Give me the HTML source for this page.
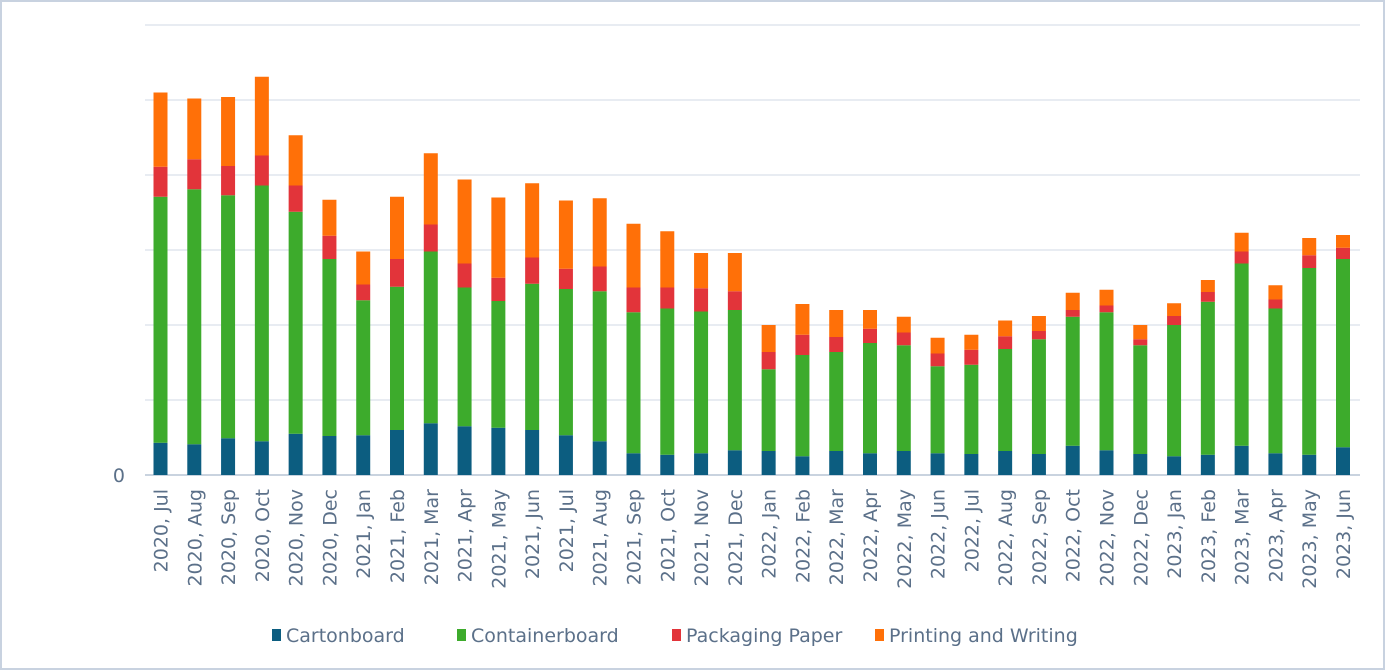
<!DOCTYPE html>
<html><head><meta charset="utf-8"><style>
html,body{margin:0;padding:0;background:#fff}
svg{display:block;font-family:"DejaVu Sans","Liberation Sans",sans-serif}
</style></head><body>
<svg id="chart" width="1386" height="671">
<rect x="1" y="1" width="1383" height="668" fill="#fff" stroke="#c8d2e0" stroke-width="2"/>
<g id="grid"></g>
<g id="bars"></g>
<g id="xlabels"></g>
<text x="125" y="482" font-size="19" fill="#5b7089" text-anchor="end">0</text>
<g>
<g><rect x="272" y="629" width="9" height="12" fill="#0c5d80"/><text x="286" y="642" font-size="19" fill="#5b7089">Cartonboard</text></g>
<g><rect x="457" y="629" width="9" height="12" fill="#3dab2c"/><text x="471" y="642" font-size="19" fill="#5b7089">Containerboard</text></g>
<g><rect x="672" y="629" width="9" height="12" fill="#e2343a"/><text x="686" y="642" font-size="19" fill="#5b7089">Packaging Paper</text></g>
<g><rect x="875" y="629" width="9" height="12" fill="#ff7008"/><text x="889" y="642" font-size="19" fill="#5b7089">Printing and Writing</text></g>
</g>
</svg>
<script>
const categories = ["2020, Jul","2020, Aug","2020, Sep","2020, Oct","2020, Nov","2020, Dec","2021, Jan","2021, Feb","2021, Mar","2021, Apr","2021, May","2021, Jun","2021, Jul","2021, Aug","2021, Sep","2021, Oct","2021, Nov","2021, Dec","2022, Jan","2022, Feb","2022, Mar","2022, Apr","2022, May","2022, Jun","2022, Jul","2022, Aug","2022, Sep","2022, Oct","2022, Nov","2022, Dec","2023, Jan","2023, Feb","2023, Mar","2023, Apr","2023, May","2023, Jun"];
const cartonboard = [43,41,49,45,55,52,53,60,69,65,63,60,53,45,29,27,29,33,32,25,32,29,32,29,28,32,28,39,33,28,25,27,39,29,27,37];
const containerboard = [328,340,324,341,296,236,180,191,229,185,169,195,195,200,188,195,189,187,109,135,132,147,141,116,119,136,153,172,184,145,175,204,243,193,249,251];
const packagingPaper = [40,40,39,40,35,31,21,37,36,32,31,35,27,33,33,28,31,25,23,27,20,19,17,17,20,17,11,9,9,8,12,13,16,12,17,15];
const printingWriting = [99,81,92,105,67,48,44,83,95,112,107,99,91,91,85,75,47,51,36,41,36,25,21,21,20,21,20,23,21,19,17,16,25,19,23,17];
const yTicks = [0,100,200,300,400,500,600];

const NS="http://www.w3.org/2000/svg";
const x0=160.5, step=(1343-160.5)/35, bw=14;
const yBase=475, pxPerUnit=0.75;
function xPos(i){return x0+i*step;}
function yPos(v){return yBase-v*pxPerUnit;}

const grid=document.getElementById('grid');
yTicks.forEach(t=>{
  const l=document.createElementNS(NS,'line');
  l.setAttribute('x1',145);l.setAttribute('x2',1360);
  l.setAttribute('y1',yPos(t));l.setAttribute('y2',yPos(t));
  l.setAttribute('stroke',t===0?'#c9d3df':'#e1e6ee');l.setAttribute('stroke-width',t===0?2:1.5);
  
  
  grid.appendChild(l);
});

const series=[[cartonboard,'#0c5d80','cartonboard'],[containerboard,'#3dab2c','containerboard'],[packagingPaper,'#e2343a','packaging-paper'],[printingWriting,'#ff7008','printing-and-writing']];
const bars=document.getElementById('bars');
const labels=document.getElementById('xlabels');
categories.forEach((c,i)=>{
  let cum=0;
  series.forEach(([arr,col,nm])=>{
    const v=arr[i];
    const r=document.createElementNS(NS,'rect');
    r.setAttribute('x',xPos(i)-bw/2);r.setAttribute('width',bw);
    r.setAttribute('y',yPos(cum+v));r.setAttribute('height',v*pxPerUnit);
    r.setAttribute('fill',col);
    
    
    bars.appendChild(r);
    cum+=v;
  });
  const t=document.createElementNS(NS,'text');
  const lx=xPos(i)+7, ly=489;
  t.setAttribute('x',lx);t.setAttribute('y',ly);
  t.setAttribute('transform','rotate(-90 '+lx+' '+ly+')');
  t.setAttribute('text-anchor','end');
  t.setAttribute('font-size','19');t.setAttribute('fill','#5b7089');
  t.textContent=c;
  
  
  labels.appendChild(t);
});
</script>
</body></html>
